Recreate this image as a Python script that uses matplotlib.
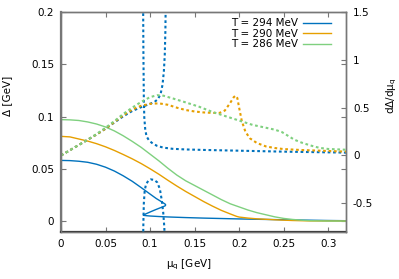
import matplotlib
matplotlib.use("Agg")
import matplotlib.pyplot as plt

# ---- data ----
labels = ["T = 294 MeV", "T = 290 MeV", "T = 286 MeV"]
colors = ["#0072bd", "#e69f00", "#7fd07f"]

# Delta (left axis), solid
mu_294 = [0, 0.01, 0.02, 0.03, 0.04, 0.05, 0.06, 0.07, 0.08, 0.09, 0.1, 0.107, 0.112,
          0.1155, 0.1172, 0.1175, 0.117, 0.115, 0.111, 0.106, 0.101, 0.097, 0.094, 0.0925,
          0.093, 0.096, 0.1, 0.11, 0.12, 0.14, 0.16, 0.2, 0.25, 0.3, 0.32]
d_294 = [0.058, 0.0578, 0.0572, 0.0562, 0.0543, 0.0515, 0.0478, 0.0432, 0.0380, 0.0320,
         0.0258, 0.0215, 0.0189, 0.0170, 0.0160, 0.0153, 0.0146, 0.0138, 0.0125, 0.0108,
         0.0090, 0.0075, 0.0064, 0.0058, 0.0054, 0.0051, 0.0048, 0.0043, 0.0039, 0.0033,
         0.0028, 0.0020, 0.0012, 0.0005, 0.0003]

mu_290 = [0, 0.01, 0.02, 0.03, 0.04, 0.05, 0.06, 0.07, 0.08, 0.09, 0.1, 0.11, 0.12, 0.13,
          0.14, 0.15, 0.16, 0.17, 0.18, 0.19, 0.197, 0.2, 0.21, 0.22, 0.24, 0.26, 0.28, 0.32]
d_290 = [0.081, 0.0805, 0.0785, 0.0765, 0.0740, 0.0710, 0.0675, 0.0636, 0.0595, 0.0550,
         0.0500, 0.0447, 0.0390, 0.0335, 0.0283, 0.0235, 0.0187, 0.0143, 0.0102, 0.0068,
         0.0045, 0.0038, 0.0028, 0.0021, 0.0012, 0.0005, 0.0001, 0.0]

mu_286 = [0, 0.01, 0.02, 0.03, 0.04, 0.05, 0.06, 0.07, 0.08, 0.09, 0.1, 0.11, 0.12, 0.13,
          0.14, 0.15, 0.16, 0.17, 0.18, 0.19, 0.2, 0.21, 0.22, 0.23, 0.24, 0.25, 0.26,
          0.27, 0.28, 0.3, 0.32]
d_286 = [0.097, 0.0968, 0.0962, 0.0948, 0.0928, 0.0900, 0.0862, 0.0815, 0.0762, 0.0705,
         0.0640, 0.0575, 0.0505, 0.0440, 0.0385, 0.0340, 0.0295, 0.0250, 0.0205, 0.0165,
         0.0135, 0.0105, 0.0080, 0.0060, 0.0040, 0.0025, 0.0015, 0.0008, 0.0003, 0.0, 0.0]

# d Delta / d mu (right axis), dotted
dmu_294_up = [0, 0.01, 0.02, 0.03, 0.04, 0.05, 0.06, 0.07, 0.08, 0.09, 0.1, 0.105, 0.109,
              0.112, 0.114, 0.1155, 0.1165, 0.1172, 0.1176]
dd_294_up = [0, 0.055, 0.11, 0.165, 0.22, 0.28, 0.345, 0.41, 0.465, 0.505, 0.54, 0.56,
             0.59, 0.65, 0.74, 0.88, 1.05, 1.3, 1.6]
dmu_294_mid = [0.1165, 0.116, 0.1148, 0.113, 0.111, 0.108, 0.1045, 0.1007, 0.098, 0.0955,
               0.094, 0.093, 0.0925, 0.0922]
dd_294_mid = [-0.9, -0.75, -0.6, -0.46, -0.35, -0.28, -0.255, -0.25, -0.265, -0.30,
              -0.365, -0.5, -0.7, -0.9]
dmu_294_lo = [0.0922, 0.0925, 0.093, 0.0935, 0.0945, 0.096, 0.099, 0.103, 0.108, 0.115,
              0.125, 0.14, 0.16, 0.2, 0.25, 0.32]
dd_294_lo = [1.6, 1.1, 0.6, 0.4, 0.28, 0.2, 0.155, 0.125, 0.1, 0.082, 0.07, 0.063, 0.058,
             0.05, 0.04, 0.03]

dmu_290 = [0, 0.01, 0.02, 0.03, 0.04, 0.05, 0.06, 0.07, 0.08, 0.09, 0.1, 0.11, 0.12, 0.13,
           0.14, 0.15, 0.16, 0.17, 0.178, 0.184, 0.19, 0.194, 0.196, 0.198, 0.2, 0.203,
           0.207, 0.212, 0.22, 0.23, 0.24, 0.25, 0.27, 0.3, 0.32]
dd_290 = [0, 0.055, 0.11, 0.165, 0.22, 0.28, 0.35, 0.42, 0.48, 0.52, 0.54, 0.545, 0.53,
          0.50, 0.475, 0.46, 0.45, 0.445, 0.445, 0.47, 0.55, 0.61, 0.625, 0.60, 0.50, 0.36,
          0.25, 0.18, 0.13, 0.095, 0.078, 0.067, 0.057, 0.047, 0.04]

dmu_286 = [0, 0.01, 0.02, 0.03, 0.04, 0.05, 0.06, 0.07, 0.08, 0.09, 0.1, 0.108, 0.115,
           0.126, 0.14, 0.155, 0.17, 0.185, 0.2, 0.215, 0.23, 0.24, 0.248, 0.255, 0.262,
           0.27, 0.28, 0.29, 0.3, 0.32]
dd_286 = [0, 0.055, 0.11, 0.165, 0.225, 0.29, 0.36, 0.435, 0.50, 0.56, 0.61, 0.63, 0.625,
          0.595, 0.555, 0.51, 0.455, 0.41, 0.365, 0.32, 0.29, 0.27, 0.245, 0.205, 0.165,
          0.135, 0.105, 0.08, 0.068, 0.06]

xticks = [0, 0.05, 0.1, 0.15, 0.2, 0.25, 0.3]
xticklabels = ["0", "0.05", "0.1", "0.15", "0.2", "0.25", "0.3"]
yticks = [0, 0.05, 0.1, 0.15, 0.2]
yticklabels = ["0", "0.05", "0.1", "0.15", "0.2"]
y2ticks = [-0.5, 0, 0.5, 1, 1.5]
y2ticklabels = ["-0.5", "0", "0.5", "1", "1.5"]

# ---- figure ----
fs = 7.5
fig = plt.figure(figsize=(3.99, 2.79), dpi=100)
ax = fig.add_axes([61 / 399, 1 - 232 / 279, 285 / 399, 220 / 279])
ax2 = ax.twinx()

lw = 1.0
dls = (0, (1.3, 1.3))
dlw = 1.5
for mu, d, c, lab in [(mu_294, d_294, colors[0], labels[0]),
                      (mu_290, d_290, colors[1], labels[1]),
                      (mu_286, d_286, colors[2], labels[2])]:
    ax.plot(mu, d, color=c, lw=lw, label=lab)

ax2.plot(dmu_294_up, dd_294_up, color=colors[0], lw=dlw, ls=dls)
ax2.plot(dmu_294_mid, dd_294_mid, color=colors[0], lw=dlw, ls=dls)
ax2.plot(dmu_294_lo, dd_294_lo, color=colors[0], lw=dlw, ls=dls)
ax2.plot(dmu_290, dd_290, color=colors[1], lw=dlw, ls=dls)
ax2.plot(dmu_286, dd_286, color=colors[2], lw=dlw, ls=dls)

ax.set_xlim(0, 0.32)
ax.set_ylim(-0.0105, 0.2)
ax2.set_ylim(-0.8, 1.5)

ax.set_xticks(xticks)
ax.set_xticklabels(xticklabels, fontsize=fs)
ax.set_yticks(yticks)
ax.set_yticklabels(yticklabels, fontsize=fs)
ax2.set_yticks(y2ticks)
ax2.set_yticklabels(y2ticklabels, fontsize=fs)

spc = "#777777"
for a in (ax, ax2):
    for s in a.spines.values():
        s.set_color(spc)
        s.set_linewidth(1.0)
ax.spines["left"].set_linewidth(1.6)
ax.spines["bottom"].set_linewidth(1.6)
ax.spines["bottom"].set_color("#333333")
ax.tick_params(axis="both", direction="in", length=3.5, width=0.8, color=spc,
               labelsize=fs, top=True, right=True, pad=5)
ax2.tick_params(axis="y", direction="in", length=3.5, width=0.8, color=spc,
                labelsize=fs, pad=5)

ax.set_xlabel(r"$\mathregular{\mu_q}$ [GeV]", fontsize=fs)
ax.xaxis.set_label_coords(0.45, -0.115)
ax.set_ylabel("Δ [GeV]", fontsize=fs)
ax.yaxis.set_label_coords(-0.17, 0.62)
ax2.set_ylabel(r"dΔ/d$\mathregular{\mu_q}$", fontsize=fs, rotation=90)
ax2.yaxis.set_label_coords(1.135, 0.62)

leg = ax.legend(loc="upper right", bbox_to_anchor=(0.97, 1.0), frameon=False,
                fontsize=fs, markerfirst=False, handlelength=2.7, handletextpad=0.5,
                labelspacing=0.05, borderaxespad=0.2)

fig.savefig("out.png", dpi=100)
